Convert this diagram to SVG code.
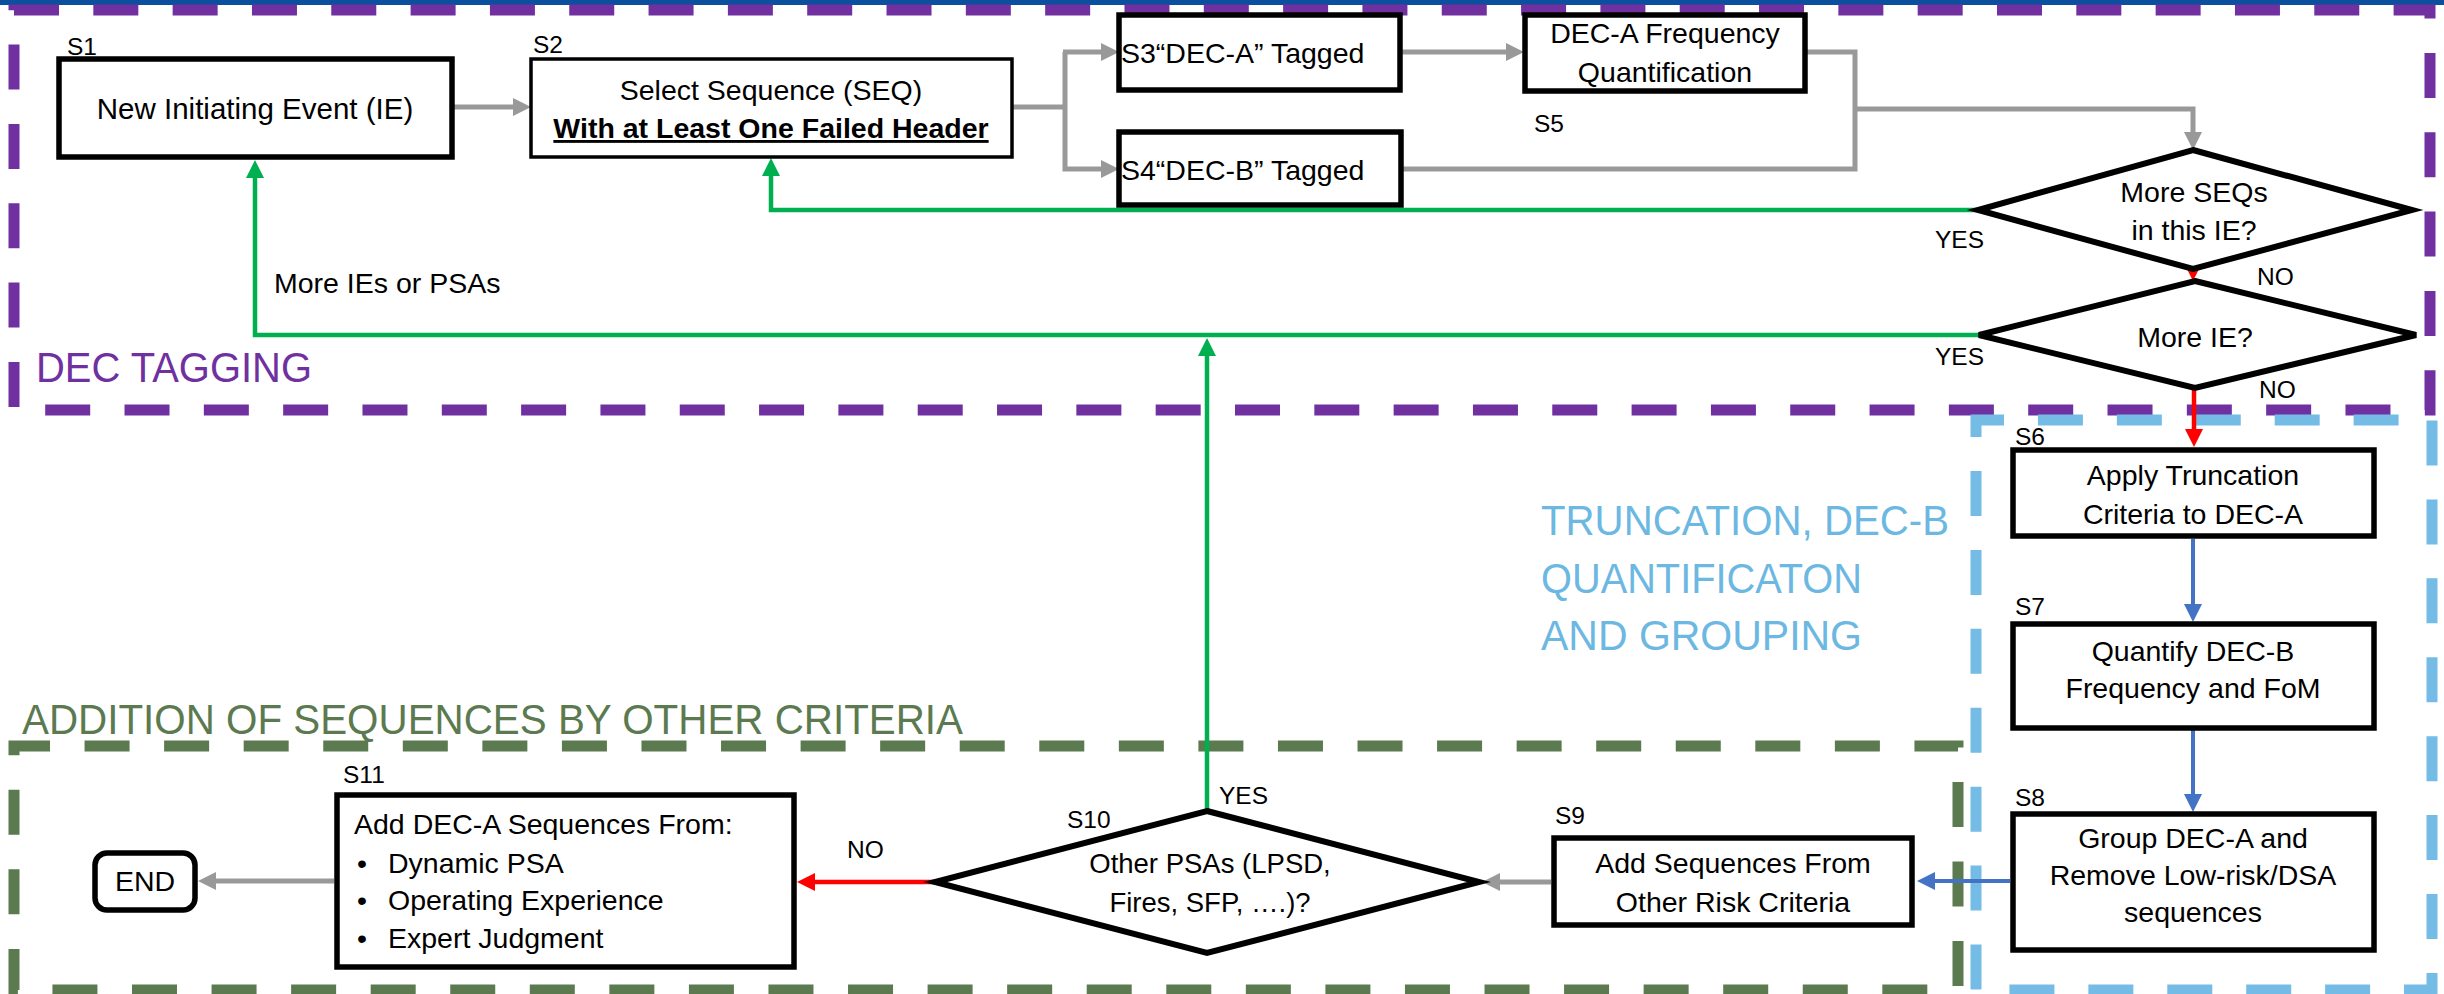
<svg xmlns="http://www.w3.org/2000/svg" width="2444" height="994" viewBox="0 0 2444 994">
<style>
.box{fill:#fff;stroke:#000;stroke-width:5.5}
.dia{fill:#fff;stroke:#000;stroke-width:6;stroke-linejoin:miter}
.t{font-family:'Liberation Sans',Arial,sans-serif;font-size:28.5px;fill:#000}
.c{text-anchor:middle}
.lbl{font-size:24.5px}
.sec{font-family:'Liberation Sans',Arial,sans-serif;font-size:43px}
.gray{fill:none;stroke:#999;stroke-width:5}
.grn{fill:none;stroke:#00b050;stroke-width:4.5}
.red{fill:none;stroke:#f00;stroke-width:4.5}
.blu{fill:none;stroke:#4472c4;stroke-width:4}
.dash{fill:none;stroke-width:11}
</style>
<defs>
<marker id="ag" viewBox="0 0 18 18" markerWidth="18" markerHeight="18" refX="8" refY="9" orient="auto" markerUnits="userSpaceOnUse"><path d="M0,0 L18,9 L0,18 z" fill="#999"/></marker>
<marker id="agr" viewBox="0 0 18 18" markerWidth="18" markerHeight="18" refX="8" refY="9" orient="auto" markerUnits="userSpaceOnUse"><path d="M0,0 L18,9 L0,18 z" fill="#00b050"/></marker>
<marker id="ar" viewBox="0 0 18 18" markerWidth="18" markerHeight="18" refX="8" refY="9" orient="auto" markerUnits="userSpaceOnUse"><path d="M0,0 L18,9 L0,18 z" fill="#f00"/></marker>
<marker id="ab" viewBox="0 0 18 18" markerWidth="18" markerHeight="18" refX="8" refY="9" orient="auto" markerUnits="userSpaceOnUse"><path d="M0,0 L18,9 L0,18 z" fill="#4472c4"/></marker>
</defs>
<rect x="0" y="0" width="2444" height="994" fill="#fff"/>
<rect x="0" y="0" width="2444" height="5" fill="#0b4f9e"/>

<g id="regions">
<path class="dash" d="M14,10 H2430 V410 H14 Z" stroke="#7030a0" stroke-dasharray="45 34.32"/>
<path class="dash" d="M1976,420 H2432 V990 H1976 Z" stroke="#74bce5" stroke-dasharray="45 33.92" stroke-dashoffset="17"/>
<path class="dash" d="M14,746 H1958 V990 H14 Z" stroke="#5b7a4f" stroke-dasharray="45 34.56" stroke-dashoffset="9"/>
<text class="sec" x="36" y="382" fill="#7030a0" textLength="276" lengthAdjust="spacingAndGlyphs">DEC TAGGING</text>
<text class="sec" x="1541" y="535" fill="#6cb8e2" textLength="408" lengthAdjust="spacingAndGlyphs">TRUNCATION, DEC-B</text>
<text class="sec" x="1541" y="593" fill="#6cb8e2" textLength="321" lengthAdjust="spacingAndGlyphs">QUANTIFICATON</text>
<text class="sec" x="1541" y="650" fill="#6cb8e2" textLength="321" lengthAdjust="spacingAndGlyphs">AND GROUPING</text>
<text class="sec" x="22" y="734" fill="#5b7a4f" textLength="941" lengthAdjust="spacingAndGlyphs">ADDITION OF SEQUENCES BY OTHER CRITERIA</text>
</g>

<g id="connectors">
<path class="gray" d="M452,107 H521" marker-end="url(#ag)"/>
<path class="gray" d="M1012,107 H1065"/>
<path class="gray" d="M1065,52 V169 H1109" marker-end="url(#ag)"/>
<path class="gray" d="M1063,52 H1109" marker-end="url(#ag)"/>
<path class="gray" d="M1400,52 H1514" marker-end="url(#ag)"/>
<path class="gray" d="M1805,52 H1855 V169 H1402"/>
<path class="gray" d="M1855,109 H2193 V140" marker-end="url(#ag)"/>
<path class="red" d="M2193,262 V271" marker-end="url(#ar)"/>
<path class="red" d="M2194,388 V437" marker-end="url(#ar)"/>
<path class="grn" d="M1978,210 H771 V168" marker-end="url(#agr)"/>
<path class="grn" d="M1979,335 H255 V170" marker-end="url(#agr)"/>
<path class="grn" d="M1207,811 V348" marker-end="url(#agr)"/>
<path class="blu" d="M2193,539 V612" marker-end="url(#ab)"/>
<path class="blu" d="M2193,728 V802" marker-end="url(#ab)"/>
<path class="blu" d="M2010,881 H1927" stroke-width="6" marker-end="url(#ab)"/>
<path class="gray" d="M1551,882 H1492" marker-end="url(#ag)"/>
<path class="red" d="M935,882 H807" stroke-width="6" marker-end="url(#ar)"/>
<path class="gray" d="M334,881 H208" marker-end="url(#ag)"/>
<text class="t" x="274" y="293" style="font-size:28.5px">More IEs or PSAs</text>
<text class="t lbl" x="1935" y="248">YES</text>
<text class="t lbl" x="1935" y="365">YES</text>
<text class="t lbl" x="2257" y="285">NO</text>
<text class="t lbl" x="2259" y="398">NO</text>
<text class="t lbl" x="1219" y="804">YES</text>
<text class="t lbl" x="847" y="858">NO</text>
</g>

<g id="s1">
<rect class="box" x="59" y="59" width="393" height="98"/>
<text class="t lbl" x="67" y="55">S1</text>
<text class="t c" x="255" y="119" style="font-size:29.5px">New Initiating Event (IE)</text>
</g>
<g id="s2">
<rect class="box" x="531" y="59" width="481" height="98" style="stroke-width:3.5"/>
<text class="t lbl" x="533" y="53">S2</text>
<text class="t c" x="771" y="100">Select Sequence (SEQ)</text>
<text class="t c" x="771" y="138" font-weight="bold" text-decoration="underline">With at Least One Failed Header</text>
</g>
<g id="s3">
<rect class="box" x="1119" y="15" width="281" height="75"/>
<text class="t" x="1121" y="63">S3“DEC-A” Tagged</text>
</g>
<g id="s4">
<rect class="box" x="1119" y="132" width="282" height="73"/>
<text class="t" x="1121" y="180">S4“DEC-B” Tagged</text>
</g>
<g id="s5">
<rect class="box" x="1525" y="15" width="280" height="76"/>
<text class="t c" x="1665" y="43">DEC-A Frequency</text>
<text class="t c" x="1665" y="82">Quantification</text>
<text class="t lbl" x="1534" y="132">S5</text>
</g>
<g id="d1">
<polygon class="dia" points="2193,150 2412,210 2193,269 1978,210"/>
<text class="t c" x="2194" y="202">More SEQs</text>
<text class="t c" x="2194" y="240">in this IE?</text>
</g>
<g id="d2">
<polygon class="dia" points="2195,281 2416,335 2195,388 1979,335"/>
<text class="t c" x="2195" y="347">More IE?</text>
</g>
<g id="s6">
<rect class="box" x="2013" y="450" width="361" height="86"/>
<text class="t lbl" x="2015" y="445">S6</text>
<text class="t c" x="2193" y="485">Apply Truncation</text>
<text class="t c" x="2193" y="524">Criteria to DEC-A</text>
</g>
<g id="s7">
<rect class="box" x="2013" y="624" width="361" height="104"/>
<text class="t lbl" x="2015" y="615">S7</text>
<text class="t c" x="2193" y="661">Quantify DEC-B</text>
<text class="t c" x="2193" y="698">Frequency and FoM</text>
</g>
<g id="s8">
<rect class="box" x="2013" y="814" width="361" height="136"/>
<text class="t lbl" x="2015" y="806">S8</text>
<text class="t c" x="2193" y="848">Group DEC-A and</text>
<text class="t c" x="2193" y="885">Remove Low-risk/DSA</text>
<text class="t c" x="2193" y="922">sequences</text>
</g>
<g id="s9">
<rect class="box" x="1554" y="838" width="358" height="87"/>
<text class="t lbl" x="1555" y="824">S9</text>
<text class="t c" x="1733" y="873">Add Sequences From</text>
<text class="t c" x="1733" y="912">Other Risk Criteria</text>
</g>
<g id="s10">
<polygon class="dia" points="1207,811 1479,882 1207,953 935,882"/>
<text class="t lbl" x="1067" y="828">S10</text>
<text class="t c" x="1210" y="873" style="font-size:27.5px">Other PSAs (LPSD,</text>
<text class="t c" x="1210" y="912" style="font-size:27.5px">Fires, SFP, ….)?</text>
</g>
<g id="s11">
<rect class="box" x="337" y="795" width="457" height="172"/>
<text class="t lbl" x="343" y="783">S11</text>
<text class="t" x="354" y="834">Add DEC-A Sequences From:</text>
<text class="t" x="357" y="873">•</text>
<text class="t" x="388" y="873">Dynamic PSA</text>
<text class="t" x="357" y="910">•</text>
<text class="t" x="388" y="910">Operating Experience</text>
<text class="t" x="357" y="948">•</text>
<text class="t" x="388" y="948">Expert Judgment</text>
</g>
<g id="end">
<rect class="box" x="95" y="853" width="100" height="57" rx="12"/>
<text class="t c" x="145" y="891">END</text>
</g>
</svg>
